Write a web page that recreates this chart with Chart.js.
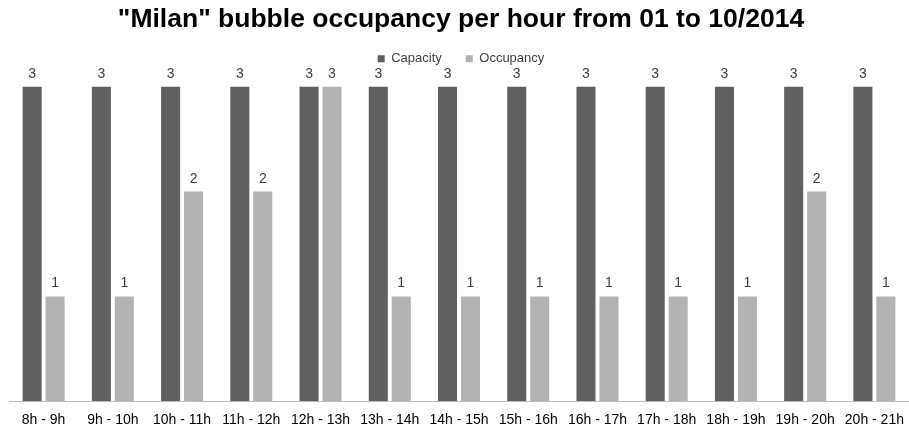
<!DOCTYPE html>
<html><head><meta charset="utf-8">
<script src="https://cdn.jsdelivr.net/npm/chart.js@4/dist/chart.umd.min.js"></script>
<style>html,body{margin:0;padding:0;background:#fff}#wrap{width:909px;height:428px}</style>
</head><body><div id="wrap"><canvas id="c"></canvas></div>
<script>
const categories = ["8h - 9h","9h - 10h","10h - 11h","11h - 12h","12h - 13h","13h - 14h","14h - 15h","15h - 16h","16h - 17h","17h - 18h","18h - 19h","19h - 20h","20h - 21h"];
const capacity = [3,3,3,3,3,3,3,3,3,3,3,3,3];
const occupancy = [1,1,2,2,3,1,1,1,1,1,1,2,1];
const seriesNames = ["Capacity","Occupancy"];
const titleText = '"Milan" bubble occupancy per hour from 01 to 10/2014';

const FONT = '"Liberation Sans", Arial, sans-serif';

const labelPlugin = {
  id: 'vlabels',
  afterDatasetsDraw(chart) {
    const ctx = chart.ctx;
    ctx.save();
    ctx.font = '14px ' + FONT;
    ctx.fillStyle = '#404040';
    ctx.textAlign = 'center';
    ctx.textBaseline = 'alphabetic';
    chart.data.datasets.forEach((ds, i) => {
      chart.getDatasetMeta(i).data.forEach((el, j) => {
        ctx.fillText(String(ds.data[j]), el.x, el.y - 9);
      });
    });
    ctx.restore();
  }
};

new Chart(document.getElementById('c'), {
  type: 'bar',
  data: {
    labels: categories,
    datasets: [
      {label: seriesNames[0], data: capacity, backgroundColor: '#606060', categoryPercentage: 0.663, barPercentage: 0.83},
      {label: seriesNames[1], data: occupancy, backgroundColor: '#b3b3b3', categoryPercentage: 0.663, barPercentage: 0.83}
    ]
  },
  options: {
    responsive: true, maintainAspectRatio: false, animation: false,
    layout: {padding: {left: 9, right: -4, top: 0, bottom: -4}},
    plugins: {
      title: {display: true, text: titleText, color: '#000', font: {family: FONT, size: 26.5, weight: 'bold'}, padding: {top: 4, bottom: -7.6}},
      legend: {display: true, position: 'top', labels: {boxWidth: 7, boxHeight: 7, padding: 24, color: '#404040', font: {family: FONT, size: 13}}},
      tooltip: {enabled: false}
    },
    scales: {
      x: {grid: {display: true, drawOnChartArea: false, drawTicks: true, tickLength: 8, tickColor: 'rgba(0,0,0,0)'},
          border: {color: '#bfbfbf', width: 1},
          ticks: {color: '#000', autoSkip: false, maxRotation: 0, padding: 3, font: {family: FONT, size: 14}}},
      y: {display: false, min: 0, max: 3.11}
    }
  },
  plugins: [labelPlugin]
});
</script></body></html>
